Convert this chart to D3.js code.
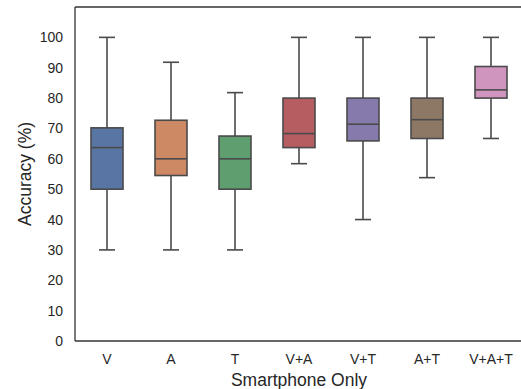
<!DOCTYPE html>
<html><head><meta charset="utf-8">
<script src="https://cdn.jsdelivr.net/npm/d3@7"></script>
<style>body{margin:0;background:#fff}svg{display:block}text{font-family:"Liberation Sans",Arial,sans-serif;fill:#262626}</style>
</head><body><svg id="c" width="521" height="389"></svg>
<script>
const categories = ["V","A","T","V+A","V+T","A+T","V+A+T"];
const whiskerLow  = [30, 30, 30, 58.4, 40, 53.8, 66.7];
const q1          = [50, 54.5, 50, 63.7, 65.9, 66.7, 80];
const median      = [63.7, 60, 60, 68.3, 71.4, 72.9, 82.7];
const q3          = [70.2, 72.7, 67.5, 80, 80, 80, 90.4];
const whiskerHigh = [100, 91.8, 81.8, 100, 100, 100, 100];
const colors = ["#5975a4","#cc8963","#5f9e6e","#b55d60","#857aab","#8d7866","#d095bf"];
const yTicks = [0,10,20,30,40,50,60,70,80,90,100];

const data = categories.map((c,i)=>({c, lo:whiskerLow[i], q1:q1[i], med:median[i], q3:q3[i], hi:whiskerHigh[i], color:colors[i]}));

const svg = d3.select("#c");
const L = 75, T = 7, B = 341, R = 523;
const x = d3.scaleBand().domain(categories).range([L, R]).padding(0);
const y = d3.scaleLinear().domain([0,110]).range([B, T]);
const bw = x.bandwidth()*0.5;
const line = "#4a4a4a";

const g = svg.append("g");
const boxes = g.selectAll("g.box").data(data).join("g");
boxes.each(function(d){
  const s = d3.select(this);
  const cx = x(d.c) + x.bandwidth()/2;
  s.append("line").attr("x1",cx).attr("x2",cx).attr("y1",y(d.hi)).attr("y2",y(d.q3)).attr("stroke",line).attr("stroke-width",1.6);
  s.append("line").attr("x1",cx).attr("x2",cx).attr("y1",y(d.q1)).attr("y2",y(d.lo)).attr("stroke",line).attr("stroke-width",1.6);
  s.append("line").attr("x1",cx-bw/4).attr("x2",cx+bw/4).attr("y1",y(d.hi)).attr("y2",y(d.hi)).attr("stroke",line).attr("stroke-width",1.6);
  s.append("line").attr("x1",cx-bw/4).attr("x2",cx+bw/4).attr("y1",y(d.lo)).attr("y2",y(d.lo)).attr("stroke",line).attr("stroke-width",1.6);
  s.append("rect").attr("x",cx-bw/2).attr("width",bw).attr("y",y(d.q3)).attr("height",y(d.q1)-y(d.q3))
    .attr("fill",d.color).attr("stroke",line).attr("stroke-width",1.6);
  s.append("line").attr("x1",cx-bw/2).attr("x2",cx+bw/2).attr("y1",y(d.med)).attr("y2",y(d.med)).attr("stroke",line).attr("stroke-width",1.6);
});

const yAxis = svg.append("g").attr("transform",`translate(${L},0)`).call(d3.axisLeft(y).tickValues(yTicks).tickSize(0).tickPadding(12));
yAxis.select(".domain").remove();
yAxis.selectAll("text").style("font-size","14px").attr("fill","#262626");
const xAxis = svg.append("g").attr("transform",`translate(0,${B})`).call(d3.axisBottom(x).tickSize(0).tickPadding(13));
xAxis.select(".domain").remove();
xAxis.selectAll("text").style("font-size","14px").attr("fill","#262626");

// spines
svg.append("line").attr("x1",L).attr("x2",L).attr("y1",T).attr("y2",B).attr("stroke","#333").attr("stroke-width",1.3);
svg.append("line").attr("x1",L).attr("x2",R).attr("y1",B).attr("y2",B).attr("stroke","#333").attr("stroke-width",1.3);
svg.append("line").attr("x1",L).attr("x2",R).attr("y1",T).attr("y2",T).attr("stroke","#333").attr("stroke-width",1.3);

svg.append("text").attr("x",299).attr("y",386).attr("text-anchor","middle").style("font-size","17.5px").text("Smartphone Only");
svg.append("text").attr("transform",`translate(31,${(T+B)/2}) rotate(-90)`).attr("text-anchor","middle").style("font-size","17.5px").text("Accuracy (%)");
</script></body></html>
